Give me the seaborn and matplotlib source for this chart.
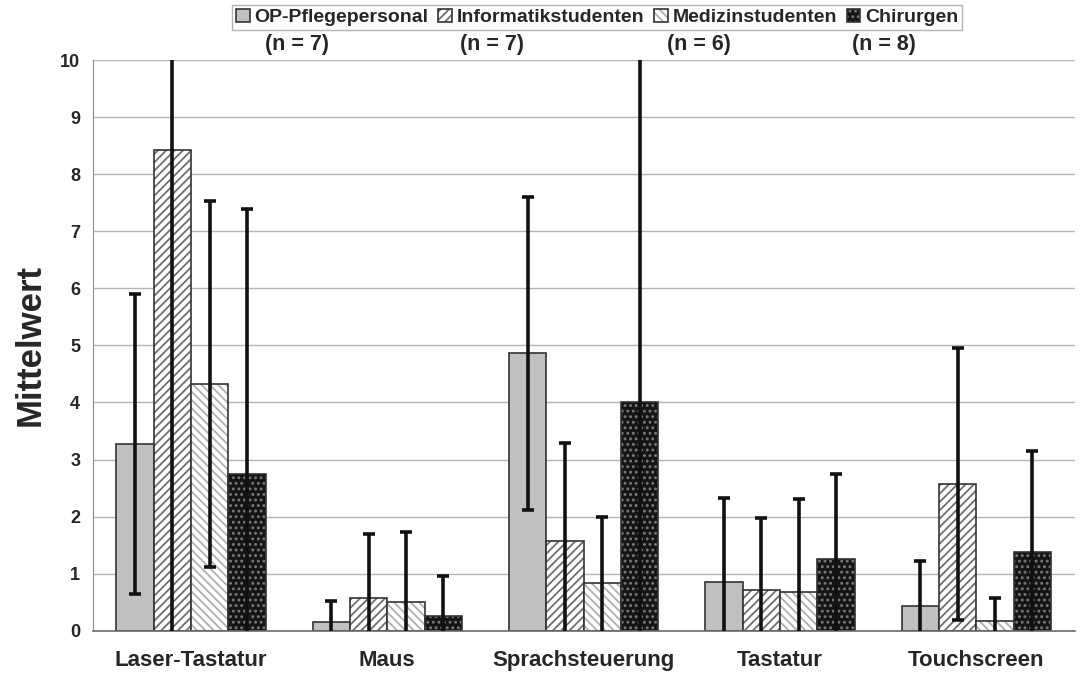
import matplotlib
matplotlib.use("Agg")
import matplotlib.pyplot as plt
from matplotlib.colors import to_rgba
import pandas as pd
import seaborn as sns

# values
categories = ["Laser-Tastatur", "Maus", "Sprachsteuerung", "Tastatur", "Touchscreen"]
groups = ["OP-Pflegepersonal", "Informatikstudenten", "Medizinstudenten", "Chirurgen"]
group_n = ["(n = 7)", "(n = 7)", "(n = 6)", "(n = 8)"]

op_means = [3.28, 0.15, 4.86, 0.86, 0.43]
op_sd = [2.63, 0.37, 2.74, 1.47, 0.79]
inf_means = [8.43, 0.57, 1.57, 0.71, 2.57]
inf_sd = [9.50, 1.13, 1.72, 1.27, 2.38]
med_means = [4.33, 0.50, 0.83, 0.67, 0.17]
med_sd = [3.21, 1.23, 1.17, 1.64, 0.41]
chi_means = [2.75, 0.25, 4.00, 1.25, 1.38]
chi_sd = [4.65, 0.71, 7.00, 1.50, 1.77]

means = [op_means, inf_means, med_means, chi_means]
sds = [op_sd, inf_sd, med_sd, chi_sd]

face_colors = ["#c0c0c0", "#ffffff", "#ffffff", "#151515"]
hatches = [None, "////", "\\\\\\\\", "..."]
hatch_colors = ["#333333", "#6e6e6e", "#b0b0b0", "#7a7a7a"]

rows = []
for g, vals in zip(groups, means):
    for c, v in zip(categories, vals):
        rows.append({"Gerät": c, "Gruppe": g, "Mittelwert": v})
df = pd.DataFrame(rows)

sns.set_style("white")
plt.rcParams["font.family"] = ["Liberation Sans", "DejaVu Sans"]
plt.rcParams["font.weight"] = "bold"
plt.rcParams["hatch.linewidth"] = 1.3

fig = plt.figure(figsize=(10.91, 6.76), dpi=100)
ax = fig.add_axes([0.085, 0.067, 0.9, 0.844])

sns.barplot(data=df, x="Gerät", y="Mittelwert", hue="Gruppe", order=categories,
            hue_order=groups, palette=face_colors, width=0.76, gap=0, saturation=1,
            edgecolor="#333333", linewidth=1.2, errorbar=None, legend=False, ax=ax)

bar_containers = list(ax.containers)
for i, cont in enumerate(bar_containers):
    xs = []
    for p in cont.patches:
        p.set_facecolor(face_colors[i])
        p.set_edgecolor("#333333")
        if hatches[i]:
            p.set_hatch(hatches[i])
            p._hatch_color = to_rgba(hatch_colors[i])
        xs.append(p.get_x() + p.get_width() / 2)
    ax.errorbar(xs, means[i], yerr=sds[i], fmt="none", ecolor="#111111",
                elinewidth=2.6, capsize=4.5, capthick=2.6, zorder=5)

ax.set_ylim(0, 10)
ax.set_xlim(-0.5, 4.5)
ax.set_yticks(range(0, 11))
ax.yaxis.grid(True, color="#b4b4b4", linewidth=1.0)
ax.set_axisbelow(True)
for s in ["top", "right"]:
    ax.spines[s].set_visible(False)
ax.spines["left"].set_color("#8c8c8c")
ax.spines["bottom"].set_color("#6a6a6a")
ax.spines["bottom"].set_linewidth(1.2)

ax.set_xticks(range(len(categories)))
ax.set_xticklabels(categories, fontsize=16, fontweight="bold")
ax.tick_params(axis="x", length=0, pad=14)
ax.set_xticks([k + 0.5 for k in range(len(categories) - 1)], minor=True)
ax.tick_params(axis="x", which="minor", length=5, color="#8c8c8c", direction="out")
ax.tick_params(axis="y", length=6, color="#8c8c8c", labelsize=13, direction="out", pad=3)
for lab in ax.get_yticklabels():
    lab.set_fontweight("bold")
ax.set_xlabel("")
ax.set_ylabel("Mittelwert", fontsize=25, fontweight="bold", labelpad=10)

leg = fig.legend(bar_containers, groups, loc="upper center", bbox_to_anchor=(0.5475, 1.0),
                 ncol=4, frameon=True, fancybox=False, edgecolor="#a0a0a0",
                 handlelength=0.7, handleheight=0.7, handletextpad=0.25,
                 columnspacing=0.5, borderpad=0.2, borderaxespad=0.25,
                 prop={"size": 14, "weight": "bold"})
leg.get_frame().set_linewidth(1.0)

for xpos, txt in zip([0.272, 0.451, 0.641, 0.810], group_n):
    fig.text(xpos, 0.934, txt, fontsize=15.5, fontweight="bold", ha="center", va="center")

fig.savefig("out.png", dpi=100)
